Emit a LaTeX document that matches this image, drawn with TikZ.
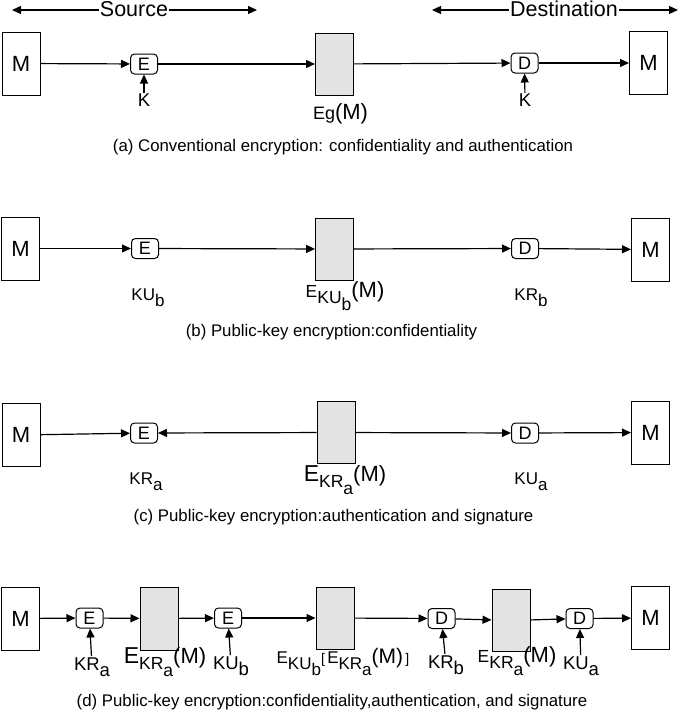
\documentclass[tikz,border=0pt]{standalone}
\usepackage{fontspec}
\setmainfont{Liberation Sans}
\usetikzlibrary{arrows.meta}
\newcommand{\lo}[1]{\raisebox{-0.35em}{#1}}
\newcommand{\fs}[1]{\fontsize{#1}{#1}\selectfont}
\tikzset{
  mbox/.style={draw, line width=1pt, inner sep=0pt, minimum width=38pt, minimum height=63pt, font=\fs{22}},
  gbox/.style={draw, line width=1pt, fill=gray!22, inner sep=0pt, minimum width=38pt, minimum height=62pt},
  kbox/.style={draw, line width=1pt, rounded corners=4pt, inner sep=0pt, minimum width=27pt, minimum height=20pt, font=\fs{18}},
  lbl/.style={inner sep=1pt, font=\fs{17}},
  big/.style={inner sep=1pt, font=\fs{20}},
  captxt/.style={inner sep=0pt, font=\fs{16.8}},
  hdr/.style={inner sep=1pt, fill=white, font=\fs{21.5}},
  arr/.style={-{Triangle[length=9pt,width=8pt]}, line width=1.2pt},
  darr/.style={{Triangle[length=9pt,width=8pt]}-{Triangle[length=9pt,width=8pt]}, line width=1.2pt},
}
\begin{document}
\begin{tikzpicture}[x=1pt,y=-1pt]
\useasboundingbox (0,0) rectangle (685,712);
% header
\coordinate (s1) at (12,10); \coordinate (s2) at (257,10);
\coordinate (d1) at (432,10); \coordinate (d2) at (678,10);
\draw[darr] (s1) -- (s2);
\draw[darr] (d1) -- (d2);
\node[hdr] (src) at (134,9) {Source};
\node[hdr] (dst) at (564,9) {Destination};
% row a
\node[mbox] (aM1) at (21,63.5) {M};
\node[kbox] (aE) at (144,64) {E};
\node[gbox] (aG) at (334.5,64) {};
\node[kbox] (aD) at (524.5,63) {D};
\node[mbox] (aM2) at (648.5,63) {M};
\node[lbl,font=\fs{18.5}] (aK1) at (144,100.5) {K};
\node[lbl,font=\fs{18.5}] (aK2) at (525,100.5) {K};
\node[big] (aL) at (340.5,114) {\fs{18}Eg\fs{22}(M)};
\draw[arr] (aM1) -- (aE);
\draw[arr] (aE) -- (aG);
\draw[arr] (aG) -- (aD);
\draw[arr] (aD) -- (aM2);
\draw[arr] (aK1) -- (aE);
\draw[arr] (aK2) -- (aD);
\node[captxt] (capa) at (343,147) {(a) Conventional encryption: confidentiality and authentication};
% row b
\node[mbox] (bM1) at (20.5,248.5) {M};
\node[kbox] (bE) at (145,248.5) {E};
\node[gbox] (bG) at (334.5,249) {};
\node[kbox] (bD) at (525,248.5) {D};
\node[mbox] (bM2) at (650.5,249.5) {M};
\node[lbl] (bK1) at (148,298) {KU\lo{b}};
\node[big] (bL) at (345,296) {\fs{17.5}E\lo{KU\lo{b}}\fs{22}(M)};
\node[lbl] (bK2) at (531,298) {KR\lo{b}};
\draw[arr] (bM1) -- (bE);
\draw[arr] (bE) -- (bG);
\draw[arr] (bG) -- (bD);
\draw[arr] (bD) -- (bM2);
\node[captxt] (capb) at (331.5,332) {(b) Public-key encryption:confidentiality};
% row c
\node[mbox] (cM1) at (21,435) {M};
\node[kbox] (cE) at (144,433) {E};
\node[gbox] (cG) at (336,432.5) {};
\node[kbox] (cD) at (525,433) {D};
\node[mbox] (cM2) at (650.5,432.5) {M};
\node[lbl] (cK1) at (146,482) {KR\lo{a}};
\node[big] (cL) at (345,480) {\fs{23}E\fs{17.5}\lo{KR\lo{a}}\fs{22}(M)};
\node[lbl] (cK2) at (531,482) {KU\lo{a}};
\draw[arr] (cM1) -- (cE);
\draw[arr] (cG) -- (cE);
\draw[arr] (cG) -- (cD);
\draw[arr] (cD) -- (cM2);
\node[captxt] (capc) at (333.5,517) {(c) Public-key encryption:authentication and signature};
% row d
\node[mbox] (dM1) at (20.5,618.5) {M};
\node[kbox] (dE1) at (89.5,618) {E};
\node[gbox,minimum height=63pt] (dG1) at (159,618.5) {};
\node[kbox] (dE2) at (228,618) {E};
\node[gbox] (dG2) at (335,618) {};
\node[kbox] (dD1) at (441.5,618.5) {D};
\node[gbox] (dG3) at (511,620.5) {};
\node[kbox] (dD2) at (579.5,618.5) {D};
\node[mbox] (dM2) at (650.5,618) {M};
\node[lbl,font=\fs{18.5}] (dK1) at (92,667) {KR\lo{a}};
\node[lbl,font=\fs{18.5}] (dK2) at (231,666) {KU\lo{b}};
\node[lbl,font=\fs{18.5}] (dK3) at (446,665) {KR\lo{b}};
\node[lbl,font=\fs{18.5}] (dK4) at (581,666) {KU\lo{a}};
\node[big] (dL1) at (165,662) {\fs{23}E\fs{17.5}\lo{KR\lo{a}}\fs{22}(M)};
\node[big] (dL2) at (343,662) {\fs{17}E\lo{KU\lo{b}}\fs{14}[\,\fs{17}E\lo{KR\lo{a}}\fs{21}(M)\fs{14}\,]};
\node[big] (dL3) at (517,661) {\fs{17.5}E\lo{KR\lo{a}}\fs{22}(M)};
\draw[arr] (dM1) -- (dE1);
\draw[arr] (dE1) -- (dG1);
\draw[arr] (dG1) -- (dE2);
\draw[arr] (dE2) -- (dG2);
\draw[arr] (dG2) -- (dD1);
\draw[arr] (dD1) -- (dG3);
\draw[arr] (dG3) -- (dD2);
\draw[arr] (dD2) -- (dM2);
\draw[arr] (dK1) -- (dE1);
\draw[arr] (dK2) -- (dE2);
\draw[arr] (dK3) -- (dD1);
\draw[arr] (dK4) -- (dD2);
\node[captxt] (capd) at (332,702) {(d) Public-key encryption:confidentiality,authentication, and signature};
\end{tikzpicture}
\end{document}
